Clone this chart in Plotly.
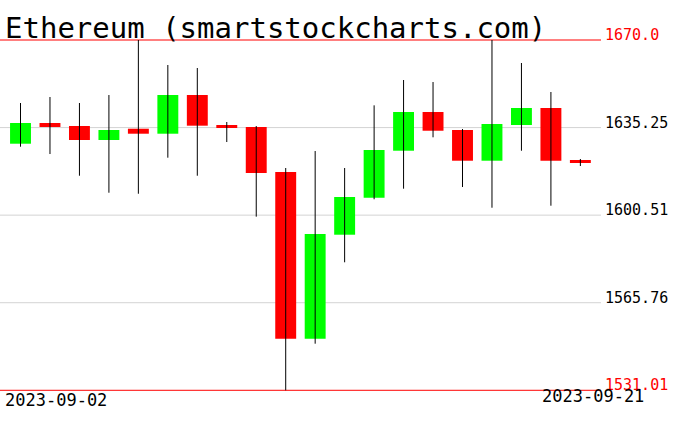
import numpy as np
import plotly.graph_objects as go

dates = ["2023-09-02", "2023-09-03", "2023-09-04", "2023-09-05", "2023-09-06",
         "2023-09-07", "2023-09-08", "2023-09-09", "2023-09-10", "2023-09-11",
         "2023-09-12", "2023-09-13", "2023-09-14", "2023-09-15", "2023-09-16",
         "2023-09-17", "2023-09-18", "2023-09-19", "2023-09-20", "2023-09-21"]
open_ = [1628.85, 1637.06, 1635.87, 1630.32, 1634.80, 1632.82, 1648.17, 1636.27, 1635.48, 1617.62,
         1551.50, 1592.74, 1607.42, 1626.07, 1641.43, 1634.29, 1622.10, 1636.27, 1643.02, 1622.38]
close = [1637.06, 1635.48, 1630.32, 1634.29, 1632.82, 1648.17, 1636.00, 1635.08, 1617.22, 1551.50,
         1593.02, 1607.70, 1626.35, 1641.43, 1634.00, 1622.10, 1636.67, 1643.02, 1622.10, 1621.19]
high = [1645.00, 1647.38, 1645.00, 1648.17, 1670.00, 1660.08, 1658.89, 1637.46, 1635.87, 1619.21,
        1625.95, 1619.21, 1644.08, 1654.13, 1653.33, 1634.68, 1670.00, 1660.87, 1649.37, 1622.78]
low = [1627.66, 1624.76, 1616.15, 1609.40, 1609.00, 1623.30, 1616.15, 1629.52, 1599.90, 1531.01,
       1549.50, 1581.80, 1606.80, 1611.00, 1631.39, 1611.66, 1603.45, 1626.07, 1604.25, 1620.00]

grid_levels = [1635.25, 1600.51, 1565.76]
grid_labels = ["1635.25", "1600.51", "1565.76"]
bound_levels = [1670.0, 1531.01]
bound_labels = ["1670.0", "1531.01"]
title_text = "Ethereum (smartstockcharts.com)"

o = np.array(open_)
c = np.array(close)
base = np.minimum(o, c)
height = np.abs(c - o)
colors = ["#00ff00" if cc >= oo else "#ff0000" for oo, cc in zip(open_, close)]

wx, wy = [], []
for d, h, l in zip(dates, high, low):
    wx += [d, d, None]
    wy += [l, h, None]

fig = go.Figure()
fig.add_trace(go.Scatter(x=wx, y=wy, mode="lines", line=dict(color="black", width=1),
                         hoverinfo="skip", showlegend=False))
fig.add_trace(go.Bar(x=dates, y=height, base=base, width=0.71, marker=dict(color=colors, line=dict(width=0)),
                     showlegend=False))

W, H = 676, 431
ml, mr, mt, mb = 0, 75, 30, 30
ph = H - mt - mb
pw = W - ml - mr

def py(p):
    return (H - mb - p) / ph

def px(p):
    return (p - ml) / pw

shapes = []
for v in grid_levels:
    shapes.append(dict(type="line", xref="paper", x0=0, x1=1, yref="y", y0=v, y1=v,
                       line=dict(color="#d3d3d3", width=1), layer="below"))
for v in bound_levels:
    shapes.append(dict(type="line", xref="paper", x0=0, x1=1, yref="y", y0=v, y1=v,
                       line=dict(color="#ff0000", width=1), layer="below"))

mono = "DejaVu Sans Mono"
ann = []
ann.append(dict(text=title_text, xref="paper", yref="paper", x=px(3), y=py(27.5),
                xanchor="left", yanchor="middle", showarrow=False,
                font=dict(family=mono, size=29, color="black")))
for v, t in zip(grid_levels, grid_labels):
    ann.append(dict(text=t, xref="paper", yref="y", x=1, y=v, xanchor="left", yanchor="middle",
                    xshift=2, yshift=5, showarrow=False, font=dict(family=mono, size=15, color="black")))
for v, t in zip(bound_levels, bound_labels):
    ann.append(dict(text=t, xref="paper", yref="y", x=1, y=v, xanchor="left", yanchor="middle",
                    xshift=2, yshift=5, showarrow=False, font=dict(family=mono, size=15, color="#ff0000")))
ann.append(dict(text=dates[0], xref="paper", yref="paper", x=px(3), y=py(400),
                xanchor="left", yanchor="middle", showarrow=False,
                font=dict(family=mono, size=17, color="black")))
ann.append(dict(text=dates[-1], xref="paper", yref="paper", x=px(646), y=py(395.5),
                xanchor="right", yanchor="middle", showarrow=False,
                font=dict(family=mono, size=17, color="black")))

fig.update_layout(
    width=W, height=H,
    margin=dict(l=ml, r=mr, t=mt, b=mb, pad=0),
    paper_bgcolor="white", plot_bgcolor="white",
    showlegend=False,
    xaxis=dict(type="category", range=[-0.696, 19.70], visible=False, fixedrange=True),
    yaxis=dict(range=[1526.76, 1673.97], visible=False, fixedrange=True),
    shapes=shapes, annotations=ann,
)

fig.write_html("out.html", config={"displayModeBar": False},
               post_script="document.body.style.margin='0';document.body.style.overflow='hidden';")
